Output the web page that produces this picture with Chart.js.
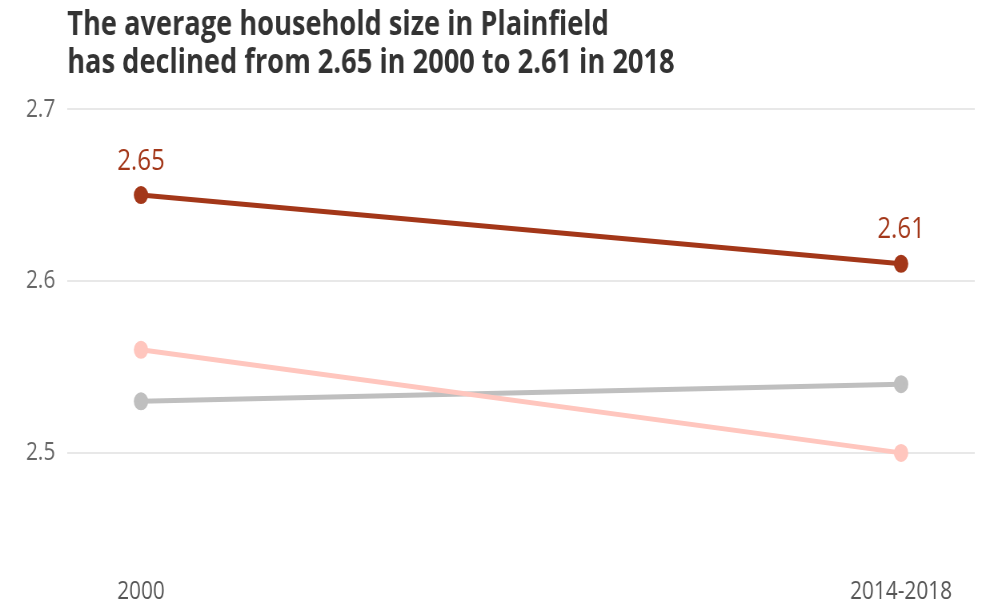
<!DOCTYPE html>
<html>
<head>
<meta charset="utf-8">
<script src="https://cdn.jsdelivr.net/npm/chart.js@4/dist/chart.umd.min.js"></script>
<style>
  html, body { margin: 0; padding: 0; background: #fff; overflow: hidden; }
  #sizeChart { display: block; }
</style>
</head>
<body>
<!-- canvas drawn wide then narrowed, gives the condensed lettering -->
<canvas id="sizeChart" width="1232" height="604" style="width:986px;height:604px"></canvas>
<script>
const periods = ['2000', '2014-2018'];
const plainfield = [2.65, 2.61];
const regionA = [2.56, 2.50];
const regionB = [2.53, 2.54];
const yTicks = [2.5, 2.6, 2.7];

const titleLines = [
  'The average household size in Plainfield',
  'has declined from 2.65 in 2000 to 2.61 in 2018'
];

const toPoints = vals => vals.map((v, i) => ({ x: i, y: v }));

// value labels above the Plainfield points
const valueLabels = {
  id: 'valueLabels',
  afterDatasetsDraw(chart) {
    const ctx = chart.ctx;
    const meta = chart.getDatasetMeta(0);
    ctx.save();
    ctx.font = '30px "Open Sans"';
    ctx.fillStyle = '#a33719';
    ctx.textAlign = 'center';
    ctx.textBaseline = 'middle';
    meta.data.forEach((pt, i) => {
      ctx.fillText(plainfield[i].toFixed(2), pt.x, pt.y - 34);
    });
    ctx.restore();
  }
};

new Chart(document.getElementById('sizeChart'), {
  type: 'line',
  data: {
    datasets: [
      {
        label: 'Plainfield',
        data: toPoints(plainfield),
        borderColor: '#a33719',
        backgroundColor: '#a33719',
        borderWidth: 5,
        pointRadius: 6.5
      },
      {
        label: 'Region A',
        data: toPoints(regionA),
        borderColor: '#ffc6be',
        backgroundColor: '#ffc6be',
        borderWidth: 5,
        pointRadius: 6.5
      },
      {
        label: 'Region B',
        data: toPoints(regionB),
        borderColor: '#bfbfbf',
        backgroundColor: '#bfbfbf',
        borderWidth: 5,
        pointRadius: 6.5
      }
    ]
  },
  options: {
    responsive: false,
    animation: false,
    devicePixelRatio: 1,
    layout: { padding: { left: 0, right: 14, top: 0, bottom: 4 } },
    plugins: {
      legend: { display: false },
      tooltip: { enabled: false },
      title: {
        display: true,
        text: titleLines,
        align: 'start',
        fullSize: false,
        color: '#333',
        font: { family: 'Open Sans', weight: 'bold', size: 34, lineHeight: 1.12 },
        padding: { top: 6, bottom: 27 }
      }
    },
    scales: {
      x: {
        type: 'linear',
        min: -0.097,
        max: 1.097,
        afterFit: scale => { scale.height = 44; },
        grid: { display: false },
        border: { display: false },
        afterBuildTicks: scale => { scale.ticks = periods.map((p, i) => ({ value: i })); },
        ticks: {
          callback: v => periods[v],
          color: '#555',
          font: { family: 'Open Sans', size: 26 },
          padding: 12,
          maxRotation: 0
        }
      },
      y: {
        min: 2.44,
        max: 2.7,
        afterFit: scale => { scale.width = 84; },
        afterBuildTicks: scale => { scale.ticks = yTicks.map(v => ({ value: v })); },
        grid: { color: '#e8e8e8', lineWidth: 2, drawTicks: false },
        border: { display: false },
        ticks: {
          callback: v => v.toFixed(1),
          color: '#666',
          font: { family: 'Open Sans', size: 26 },
          padding: 15
        }
      }
    }
  },
  plugins: [valueLabels]
});
</script>
</body>
</html>
